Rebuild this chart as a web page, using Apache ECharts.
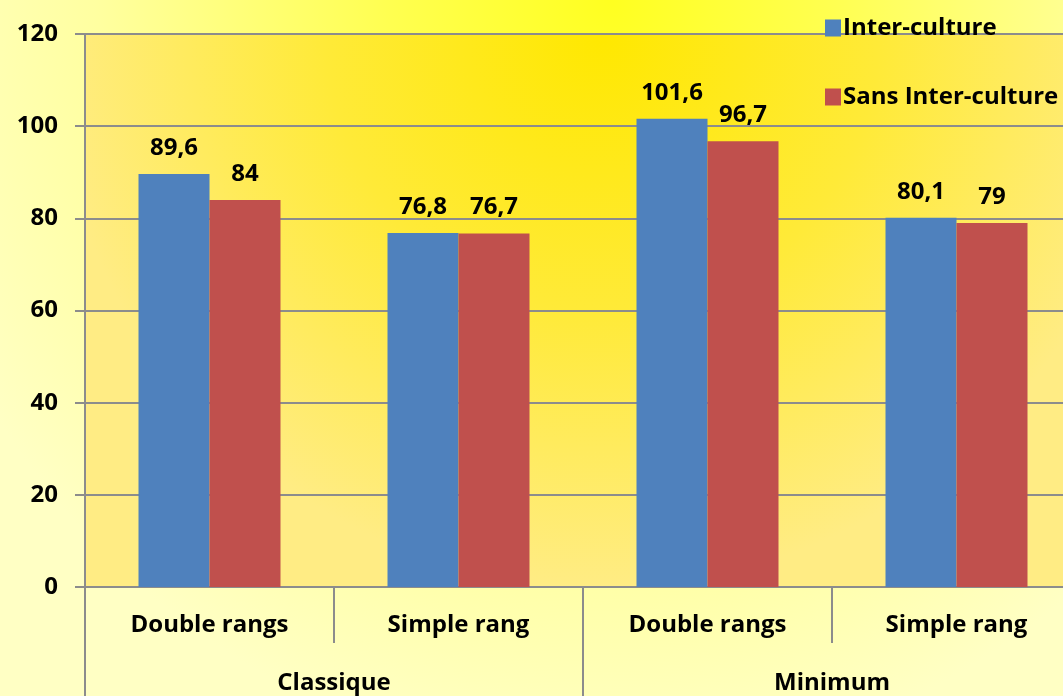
<!DOCTYPE html>
<html>
<head>
<meta charset="utf-8">
<script src="https://cdn.jsdelivr.net/npm/echarts@6/dist/echarts.min.js"></script>
<style>
  html, body { margin: 0; padding: 0; overflow: hidden; width: 1063px; height: 696px; }
  #chart {
    width: 1110px; height: 696px;
    background: radial-gradient(ellipse 66% 110% at 55% 0%, #ffff20 0%, #ffff50 30%, #ffffa0 70%, #ffffc4 100%);
  }
</style>
</head>
<body>
<div id="chart"></div>
<script>
// Sub-categories (inner axis) and their groups (outer axis)
const subCategories = ['Double rangs', 'Simple rang', 'Double rangs', 'Simple rang'];
const groups = ['Classique', 'Minimum'];
const seriesNames = ['Inter-culture', 'Sans Inter-culture'];
const interCulture = [89.6, 76.8, 101.6, 80.1];
const sansInterCulture = [84, 76.7, 96.7, 79];
const yTicks = { min: 0, max: 120, interval: 20 };

const FONT = 'Open Sans';
const FS = 24;
const gray = '#8c8c8c';
const fmt = v => String(v).replace('.', ',');

const chart = echarts.init(document.getElementById('chart'), null, { renderer: 'canvas' });

const barLabel = {
  show: true,
  position: 'top',
  distance: 14,
  color: '#000',
  fontFamily: FONT,
  fontWeight: 'bold',
  fontSize: FS,
  formatter: p => fmt(p.value)
};

chart.setOption({
  backgroundColor: 'transparent',
  animation: false,
  textStyle: { fontFamily: FONT },
  legend: {
    orient: 'vertical',
    left: 820,
    top: 11,
    itemWidth: 16,
    itemHeight: 17,
    itemGap: 45,
    icon: 'rect',
    textStyle: { fontFamily: FONT, fontWeight: 'bold', fontSize: FS, color: '#000', padding: [0, 0, 0, -3] },
    data: seriesNames
  },
  grid: {
    left: 85, top: 34, width: 996, height: 553,
    show: true,
    borderWidth: 0,
    backgroundColor: {
      type: 'radial', x: 0.52, y: 0.0, r: 1.0,
      colorStops: [
        { offset: 0, color: '#ffe800' },
        { offset: 0.5, color: '#ffea38' },
        { offset: 1, color: '#ffec84' }
      ]
    }
  },
  xAxis: [
    {
      type: 'category',
      data: subCategories,
      position: 'bottom',
      axisLine: { show: true, lineStyle: { color: gray, width: 2 } },
      axisTick: { show: true, length: 56, interval: 0, lineStyle: { color: gray, width: 2 } },
      axisLabel: { interval: 0, margin: 26, color: '#000', fontFamily: FONT, fontWeight: 'bold', fontSize: FS },
      splitLine: { show: false }
    },
    {
      type: 'category',
      data: groups,
      position: 'bottom',
      axisLine: { show: false },
      axisTick: { show: true, length: 130, interval: 0, lineStyle: { color: gray, width: 2 } },
      axisLabel: { interval: 0, margin: 84, color: '#000', fontFamily: FONT, fontWeight: 'bold', fontSize: FS },
      splitLine: { show: false }
    }
  ],
  yAxis: {
    type: 'value',
    min: yTicks.min, max: yTicks.max, interval: yTicks.interval,
    axisLine: { show: true, lineStyle: { color: gray, width: 2 } },
    axisTick: { show: true, length: 10, lineStyle: { color: gray, width: 2 } },
    axisLabel: { margin: 27, color: '#000', fontFamily: FONT, fontWeight: 'bold', fontSize: FS },
    splitLine: { show: true, lineStyle: { color: gray, width: 2 } }
  },
  series: [
    {
      name: seriesNames[0], type: 'bar', xAxisIndex: 0,
      data: interCulture,
      barWidth: 71, barGap: '0%',
      itemStyle: { color: '#4f81bd' },
      label: barLabel
    },
    {
      name: seriesNames[1], type: 'bar', xAxisIndex: 0,
      data: sansInterCulture,
      barWidth: 71, barGap: '0%',
      itemStyle: { color: '#c0504d' },
      label: barLabel
    }
  ]
});
</script>
</body>
</html>
